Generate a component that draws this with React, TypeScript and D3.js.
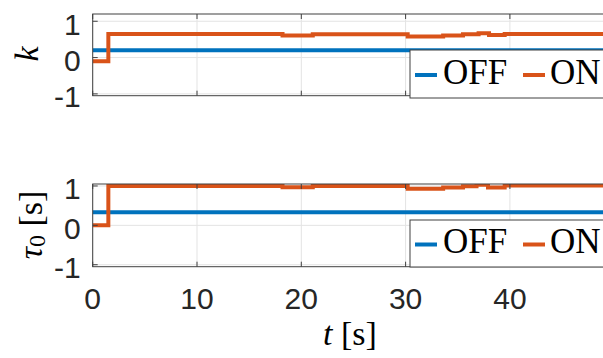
import React from "react";
import * as d3 from "d3";

const xTicks = [0, 10, 20, 30, 40];
const yTicks = [-1, 0, 1];
const yTickLabels = ["-1", "0", "1"];

const kOffT = [0, 50];
const kOffV = [0.2, 0.2];
const kOnT = [0, 1.5, 18.2, 21.1, 30.2, 33.6, 35.5, 37.0, 38.0, 39.5, 50];
const kOnV = [-0.1, 0.65, 0.61, 0.64, 0.58, 0.61, 0.64, 0.67, 0.62, 0.65, 0.65];

const tauOffT = [0, 50];
const tauOffV = [0.33, 0.33];
const tauOnT = [0, 1.5, 18.2, 21.1, 30.2, 33.6, 35.5, 36.8, 37.9, 39.5, 50];
const tauOnV = [0, 1.0, 0.97, 1.0, 0.93, 0.96, 0.99, 1.03, 0.96, 1.01, 1.01];

const legendLabels = ["OFF", "ON"];
const colors = ["#0072BD", "#D95319"];

const W = 603;
const H = 358;
const x0 = 92.7;
const x1 = 614.2;

const axisColor = "#404040";
const gridColor = "#e3e3e3";
const sans = "'Liberation Sans', Arial, sans-serif";
const serif = "'Liberation Serif', 'Times New Roman', serif";

type PanelProps = {
  id: string;
  top: number;
  bottom: number;
  domain: [number, number];
  off: [number[], number[]];
  on: [number[], number[]];
  legTop: number;
  legBottom: number;
  ylabel: React.ReactNode;
  ylabelX: number;
  ylabelY: number;
};

function Panel(p: PanelProps) {
  const x = d3.scaleLinear().domain([0, 50]).range([x0, x1]);
  const y = d3.scaleLinear().domain(p.domain).range([p.bottom, p.top]);
  const line = d3
    .line<[number, number]>()
    .x((d) => x(d[0]))
    .y((d) => y(d[1]))
    .curve(d3.curveStepAfter);
  const pts = (s: [number[], number[]]) =>
    s[0].map((t, i) => [t, s[1][i]] as [number, number]);
  const legMid = (p.legTop + p.legBottom) / 2;
  return (
    <g>
      <defs>
        <clipPath id={"clip" + p.id}>
          <rect x={x0} y={p.top} width={x1 - x0} height={p.bottom - p.top} />
        </clipPath>
      </defs>
      <rect x={x0} y={p.top} width={x1 - x0} height={p.bottom - p.top} fill="#fff" />
      {xTicks.map((t) => (
        <line key={"gx" + t} x1={x(t)} x2={x(t)} y1={p.top} y2={p.bottom} stroke={gridColor} strokeWidth={1} />
      ))}
      {yTicks.map((t) => (
        <line key={"gy" + t} x1={x0} x2={x1} y1={y(t)} y2={y(t)} stroke={gridColor} strokeWidth={1} />
      ))}
      <g clipPath={`url(#clip${p.id})`}>
        <path d={line(pts(p.off)) || ""} fill="none" stroke={colors[0]} strokeWidth={4} />
        <path d={line(pts(p.on)) || ""} fill="none" stroke={colors[1]} strokeWidth={4} />
      </g>
      <rect x={x0} y={p.top} width={x1 - x0} height={p.bottom - p.top} fill="none" stroke={axisColor} strokeWidth={1} />
      {xTicks.map((t) => (
        <g key={"tx" + t}>
          <line x1={x(t)} x2={x(t)} y1={p.bottom} y2={p.bottom - 5} stroke={axisColor} strokeWidth={1} />
          <line x1={x(t)} x2={x(t)} y1={p.top} y2={p.top + 5} stroke={axisColor} strokeWidth={1} />
        </g>
      ))}
      {yTicks.map((t, i) => (
        <g key={"ty" + t}>
          <line x1={x0} x2={x0 + 5} y1={y(t)} y2={y(t)} stroke={axisColor} strokeWidth={1} />
          <text
            x={x0 - 12}
            y={y(t) + 3}
            textAnchor="end"
            dominantBaseline="central"
            fontFamily={sans}
            fontSize={30}
            fill="#262626"
          >
            {yTickLabels[i]}
          </text>
        </g>
      ))}
      {/* legend */}
      <rect x={410} y={p.legTop} width={260} height={p.legBottom - p.legTop} fill="#fff" stroke={axisColor} strokeWidth={1} />
      <line x1={415} x2={437} y1={legMid + 1} y2={legMid + 1} stroke={colors[0]} strokeWidth={4} />
      <text x={443} y={legMid + 9.5} fontFamily={serif} fontSize={35} fill="#000">
        {legendLabels[0]}
      </text>
      <line x1={523} x2={545} y1={legMid + 1} y2={legMid + 1} stroke={colors[1]} strokeWidth={4} />
      <text x={550} y={legMid + 9.5} fontFamily={serif} fontSize={35} fill="#000">
        {legendLabels[1]}
      </text>
      <g transform={`translate(${p.ylabelX},${p.ylabelY}) rotate(-90)`}>
        <text textAnchor="middle" dominantBaseline="central" fontFamily={serif} fontSize={34} fill="#000">
          {p.ylabel}
        </text>
      </g>
    </g>
  );
}

export default function App() {
  const x = d3.scaleLinear().domain([0, 50]).range([x0, x1]);
  return (
    <svg
      width={W}
      height={H}
      viewBox={`0 0 ${W} ${H}`}
      style={{ position: "absolute", left: 0, top: 0, background: "#fff", display: "block" }}
    >
      <rect x={0} y={0} width={W} height={H} fill="#fff" />
      <Panel
        id="a"
        top={14}
        bottom={95.7}
        domain={[-1.05, 1.2]}
        off={[kOffT, kOffV]}
        on={[kOnT, kOnV]}
        legTop={50}
        legBottom={98}
        ylabel={<tspan fontStyle="italic">k</tspan>}
        ylabelX={26}
        ylabelY={54}
      />
      <Panel
        id="b"
        top={184}
        bottom={266.7}
        domain={[-1.05, 1.05]}
        off={[tauOffT, tauOffV]}
        on={[tauOnT, tauOnV]}
        legTop={220}
        legBottom={267}
        ylabel={
          <>
            <tspan fontStyle="italic">τ</tspan>
            <tspan fontSize={24} dy={7}>0</tspan>
            <tspan dy={-7}> [s]</tspan>
          </>
        }
        ylabelX={30}
        ylabelY={225}
      />
      {xTicks.map((t) => (
        <text
          key={"xl" + t}
          x={x(t)}
          y={309}
          textAnchor="middle"
          fontFamily={sans}
          fontSize={30}
          fill="#262626"
        >
          {t}
        </text>
      ))}
      <text x={350} y={345} textAnchor="middle" fontFamily={serif} fontSize={34} fill="#000">
        <tspan fontStyle="italic">t</tspan>
        <tspan> [s]</tspan>
      </text>
    </svg>
  );
}
